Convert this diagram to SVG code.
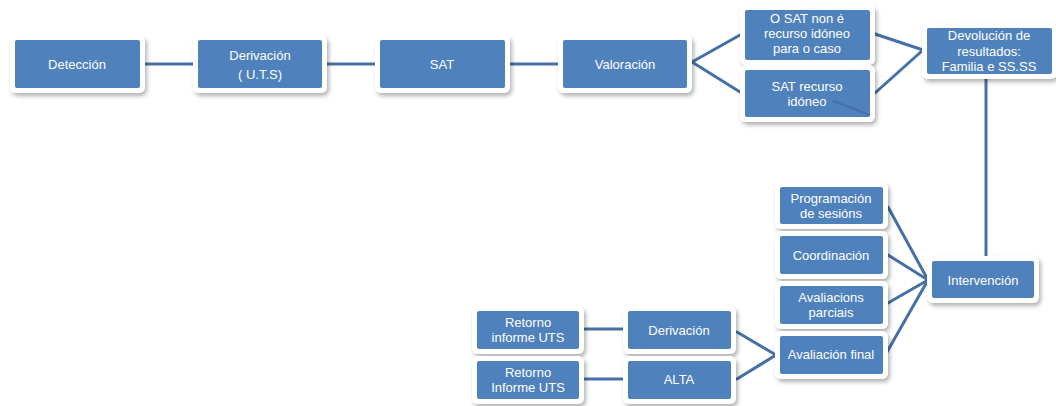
<svg xmlns="http://www.w3.org/2000/svg" width="1056" height="406" viewBox="0 0 1056 406">
<defs>
<filter id="sh" x="-20%" y="-30%" width="140%" height="160%">
<feDropShadow dx="2" dy="3" stdDeviation="2" flood-color="#000" flood-opacity="0.3"/>
</filter>
</defs>
<style>
.o{fill:#ffffff;filter:url(#sh)}
.b{fill:#4f81bd}
.t{fill:#ffffff;font-family:"Liberation Sans",Arial,sans-serif;font-size:13px;text-anchor:middle;dominant-baseline:central}
.c{stroke:#4670a8;stroke-width:3;fill:none;stroke-linecap:round}
</style>
<rect width="1056" height="406" fill="#ffffff"/>
<g id="connectors">
<line class="c" x1="145" y1="64" x2="193" y2="64"/>
<line class="c" x1="327" y1="64" x2="375" y2="64"/>
<line class="c" x1="510" y1="64" x2="558" y2="64"/>
<line class="c" x1="692" y1="62" x2="740" y2="35"/>
<line class="c" x1="692" y1="62" x2="740" y2="92"/>
<line class="c" x1="872" y1="33" x2="923" y2="50"/>
<line class="c" x1="875" y1="93" x2="923" y2="50"/>
<line class="c" x1="986" y1="79" x2="986" y2="262"/>
<line class="c" x1="888" y1="207" x2="928" y2="280"/>
<line class="c" x1="888" y1="255" x2="928" y2="280"/>
<line class="c" x1="888" y1="303" x2="928" y2="280"/>
<line class="c" x1="887" y1="352" x2="928" y2="280"/>
<line class="c" x1="737" y1="332" x2="776" y2="355"/>
<line class="c" x1="737" y1="379" x2="776" y2="355"/>
<line class="c" x1="585" y1="329" x2="625" y2="329"/>
<line class="c" x1="585" y1="379" x2="625" y2="379"/>
</g>
<g id="deteccion"><rect class="o" x="10" y="35" width="135" height="58" rx="6"/><rect class="b" x="15" y="40" width="125" height="48" rx="2"/><text class="t" x="77" y="64">Detección</text></g>
<g id="derivacion"><rect class="o" x="193" y="35" width="134" height="58" rx="6"/><rect class="b" x="198" y="40" width="124" height="48" rx="2"/><text class="t" x="260" y="55">Derivación</text><text class="t" x="260" y="74">( U.T.S)</text></g>
<g id="sat"><rect class="o" x="375" y="35" width="135" height="58" rx="6"/><rect class="b" x="380" y="40" width="125" height="48" rx="2"/><text class="t" x="442" y="64">SAT</text></g>
<g id="valoracion"><rect class="o" x="558" y="35" width="134" height="58" rx="6"/><rect class="b" x="563" y="40" width="124" height="48" rx="2"/><text class="t" x="625" y="64">Valoración</text></g>
<g id="sat-non"><rect class="o" x="740" y="5" width="135" height="60" rx="6"/><rect class="b" x="745" y="10" width="125" height="50" rx="2"/><text class="t" x="807" y="18">O SAT non é</text><text class="t" x="807" y="33">recurso idóneo</text><text class="t" x="807" y="48">para o caso</text></g>
<g id="sat-recurso"><rect class="o" x="740" y="65" width="135" height="57" rx="6"/><rect class="b" x="745" y="70" width="125" height="47" rx="2"/><text class="t" x="807" y="86">SAT recurso</text><text class="t" x="807" y="101">idóneo</text><line x1="833" y1="101" x2="870" y2="115" stroke="#4670a8" stroke-width="2"/></g>
<g id="devolucion"><rect class="o" x="922" y="23" width="135" height="56" rx="6"/><rect class="b" x="927" y="28" width="125" height="46" rx="2"/><text class="t" x="989" y="35">Devolución de</text><text class="t" x="989" y="51">resultados:</text><text class="t" x="989" y="66">Familia e SS.SS</text></g>
<g id="programacion"><rect class="o" x="775" y="182" width="113" height="47" rx="6"/><rect class="b" x="780" y="187" width="103" height="37" rx="2"/><text class="t" x="831" y="198">Programación</text><text class="t" x="831" y="213">de sesións</text></g>
<g id="coordinacion"><rect class="o" x="775" y="231" width="113" height="48" rx="6"/><rect class="b" x="780" y="236" width="103" height="38" rx="2"/><text class="t" x="831" y="255">Coordinación</text></g>
<g id="avaliacions"><rect class="o" x="775" y="281" width="113" height="48" rx="6"/><rect class="b" x="780" y="286" width="103" height="38" rx="2"/><text class="t" x="831" y="297">Avaliacions</text><text class="t" x="831" y="312">parciais</text></g>
<g id="avaliacion-final"><rect class="o" x="775" y="331" width="113" height="48" rx="6"/><rect class="b" x="780" y="336" width="103" height="38" rx="2"/><text class="t" x="831" y="354">Avaliación final</text></g>
<g id="intervencion"><rect class="o" x="927" y="256" width="112" height="47" rx="6"/><rect class="b" x="932" y="261" width="102" height="37" rx="2"/><text class="t" x="983" y="280">Intervención</text></g>
<g id="retorno1"><rect class="o" x="472" y="306" width="112" height="48" rx="6"/><rect class="b" x="477" y="311" width="102" height="38" rx="2"/><text class="t" x="528" y="322">Retorno</text><text class="t" x="528" y="337">informe UTS</text></g>
<g id="retorno2"><rect class="o" x="472" y="356" width="112" height="48" rx="6"/><rect class="b" x="477" y="361" width="102" height="38" rx="2"/><text class="t" x="528" y="372">Retorno</text><text class="t" x="528" y="387">Informe UTS</text></g>
<g id="derivacion2"><rect class="o" x="623" y="306" width="113" height="48" rx="6"/><rect class="b" x="628" y="311" width="103" height="38" rx="2"/><text class="t" x="679" y="330">Derivación</text></g>
<g id="alta"><rect class="o" x="623" y="356" width="113" height="48" rx="6"/><rect class="b" x="628" y="361" width="103" height="38" rx="2"/><text class="t" x="679" y="379">ALTA</text></g>
</svg>
